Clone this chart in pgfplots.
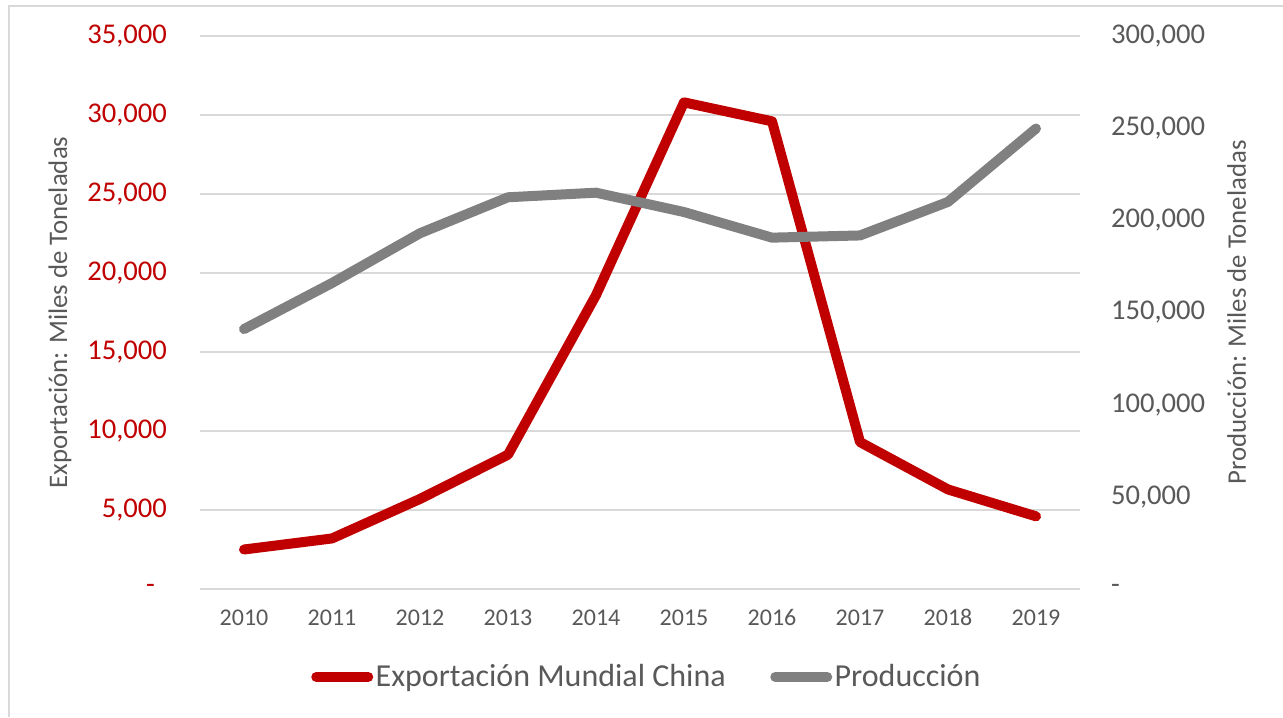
\documentclass[border=0pt]{standalone}
\usepackage{pgfplots}
\pgfplotsset{compat=1.18}
\usepackage{fontspec}
\setmainfont{Carlito}
\definecolor{exred}{HTML}{C00000}
\definecolor{prgray}{HTML}{808080}
\definecolor{txtgray}{HTML}{595959}
\definecolor{gridgray}{HTML}{D9D9D9}
\newcommand{\cfont}{\fontsize{14.3}{16}\selectfont}
\newcommand{\xfont}{\fontsize{12}{14}\selectfont}
\newcommand{\lfont}{\fontsize{13.4}{16}\selectfont}
\newcommand{\gfont}{\fontsize{16}{18}\selectfont}
\begin{document}
\begin{tikzpicture}
\useasboundingbox (0,0) rectangle (641.5pt,358.5pt);
\draw[gridgray, line width=1pt] (4.5pt,0) -- (4.5pt,355.5pt) -- (641.5pt,355.5pt);
\pgfplotsset{
  base/.style={
    scale only axis, width=440pt, height=276.5pt,
    at={(100pt,64pt)}, anchor=south west,
    xmin=-0.5, xmax=9.5,
    xtick={0,1,2,3,4,5,6,7,8,9},
    xticklabels={2010,2011,2012,2013,2014,2015,2016,2017,2018,2019},
    scaled y ticks=false,
    major tick length=0pt,
    axis line style={draw=none},
    tick label style={font=\cfont},
    label style={font=\lfont, text=txtgray},
    xticklabel style={font=\xfont, text=txtgray, yshift=-6pt, text height=8.5pt, text depth=0pt},
  }
}
\begin{axis}[base,
  ymin=0, ymax=35000,
  ytick={0,5000,10000,15000,20000,25000,30000,35000},
  yticklabels={{-\hspace{6pt}\mbox{}},{5,000},{10,000},{15,000},{20,000},{25,000},{30,000},{35,000}},
  yticklabel style={text=exred, xshift=-13pt},
  ymajorgrids, grid style={gridgray, line width=0.9pt},
  ylabel={Exportación: Miles de Toneladas},
  ylabel style={at={(axis description cs:-0.159,0.5)}, anchor=center},
]
\addplot[exred, line width=5pt, line join=round, line cap=round] coordinates {
 (0,2500) (1,3200) (2,5700) (3,8500) (4,18600)
 (5,30800) (6,29600) (7,9300) (8,6300) (9,4600)};
\end{axis}
\begin{axis}[base,
  axis x line=none, axis y line*=right,
  ymin=0, ymax=300000,
  ytick={0,50000,100000,150000,200000,250000,300000},
  yticklabels={-,{50,000},{100,000},{150,000},{200,000},{250,000},{300,000}},
  yticklabel style={text=txtgray, xshift=12pt},
  ylabel={Producción: Miles de Toneladas},
  ylabel style={at={(axis description cs:1.178,0.5)}, anchor=center, rotate=0},
  legend style={at={(0.508,-0.159)}, anchor=center, draw=none, fill=none,
    legend columns=2, font=\gfont, text=txtgray,
    nodes={inner xsep=1.2pt},
    /tikz/every even column/.append style={column sep=21pt},
    inner sep=0pt},
  legend image code/.code={\draw[#1, line width=5pt, line cap=round] (0pt,0pt) -- (26pt,0pt);},
]
\addlegendimage{exred}
\addlegendentry{Exportación Mundial China}
\addplot[prgray, line width=5pt, line join=round, line cap=round] coordinates {
 (0,141000) (1,166000) (2,193000) (3,212500) (4,215000)
 (5,204500) (6,190600) (7,191800) (8,210000) (9,249800)};
\addlegendentry{Producción}
\end{axis}
\end{tikzpicture}
\end{document}
